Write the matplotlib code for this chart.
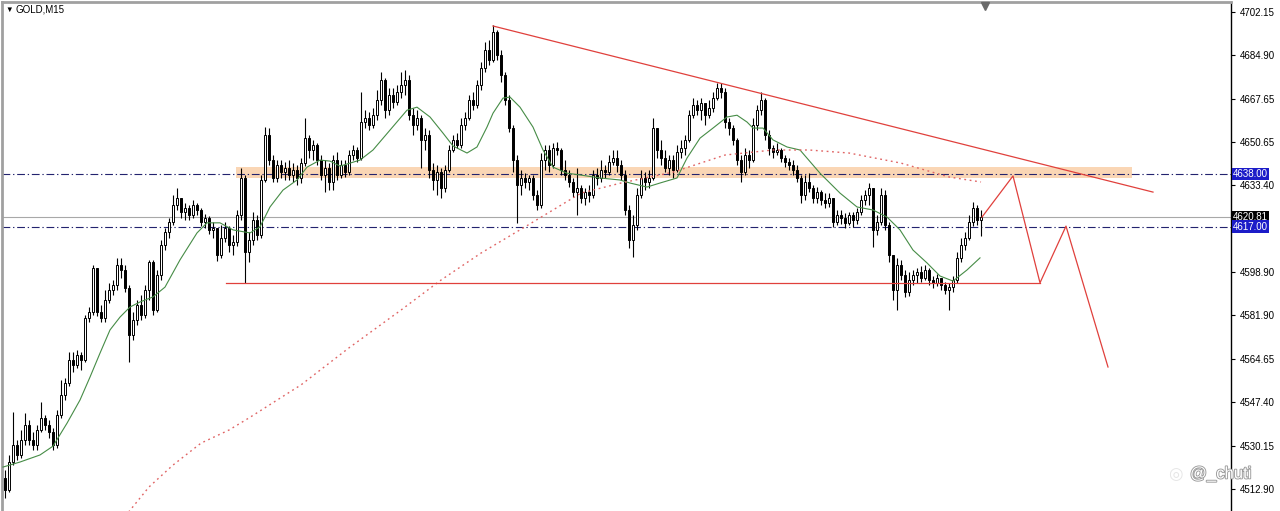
import numpy as np
import matplotlib
matplotlib.use("Agg")
import matplotlib.pyplot as plt
import matplotlib.patheffects as pe
from matplotlib.patches import Rectangle
import matplotlib.transforms as mtransforms

plt.rcParams['font.family'] = ['Liberation Sans', 'DejaVu Sans']

# ---- GOLD M15 candles (price) ----
first_open = 4517.2
closes = [
    4512.5, 4523.6, 4530.3, 4526.4, 4532.3, 4538.3, 4532.3, 4530.3, 4536.3, 4541.1,
    4538.3, 4535.5, 4530.3, 4542.2, 4550.2, 4555.0, 4564.1, 4562.1, 4566.1, 4564.1,
    4580.8, 4583.1, 4600.6, 4583.1, 4580.8, 4587.9, 4591.9, 4593.8, 4601.8, 4599.8,
    4592.7, 4574.0, 4580.0, 4585.9, 4581.9, 4591.9, 4603.0, 4583.9, 4597.8, 4609.7,
    4614.9, 4618.9, 4625.6, 4628.3, 4622.8, 4624.4, 4621.6, 4625.6, 4623.6, 4618.9,
    4620.5, 4615.7, 4616.5, 4605.7, 4612.5, 4616.5, 4609.7, 4610.9, 4621.6, 4636.3,
    4606.9, 4611.7, 4619.6, 4613.7, 4635.5, 4653.3, 4643.4, 4636.3, 4641.4, 4638.6,
    4640.2, 4637.5, 4639.5, 4636.3, 4642.2, 4652.1, 4647.4, 4649.4, 4643.4, 4637.5,
    4640.2, 4634.7, 4643.4, 4637.5, 4641.4, 4638.6, 4645.4, 4647.4, 4644.2, 4658.5,
    4660.1, 4657.3, 4661.2, 4667.2, 4675.2, 4663.2, 4669.2, 4666.4, 4670.4, 4673.2,
    4675.2, 4661.2, 4657.3, 4660.1, 4651.4, 4653.3, 4639.5, 4635.5, 4638.6, 4632.3,
    4639.5, 4647.4, 4651.4, 4649.4, 4657.3, 4660.1, 4667.2, 4665.2, 4673.2, 4679.9,
    4687.1, 4683.1, 4694.2, 4685.1, 4677.1, 4667.2, 4656.1, 4643.4, 4633.5, 4636.3,
    4634.7, 4636.3, 4629.5, 4625.6, 4643.4, 4647.4, 4641.4, 4648.2, 4647.4, 4639.5,
    4637.5, 4634.7, 4630.7, 4632.3, 4628.3, 4630.7, 4629.5, 4637.5, 4636.3, 4639.5,
    4638.6, 4642.6, 4644.2, 4641.4, 4637.5, 4623.6, 4611.7, 4617.6, 4629.5, 4636.3,
    4634.7, 4636.3, 4656.1, 4647.4, 4644.2, 4640.2, 4643.4, 4639.5, 4646.6, 4648.2,
    4651.4, 4661.2, 4665.2, 4663.2, 4666.0, 4661.2, 4664.0, 4668.0, 4672.0, 4670.4,
    4658.5, 4656.1, 4651.4, 4643.4, 4638.6, 4645.4, 4643.4, 4657.3, 4663.2, 4667.2,
    4653.3, 4648.2, 4646.6, 4647.4, 4644.2, 4642.6, 4641.4, 4639.5, 4636.3, 4629.5,
    4634.7, 4632.3, 4628.3, 4630.7, 4627.6, 4626.4, 4628.3, 4618.9, 4621.6, 4620.5,
    4618.5, 4621.6, 4619.6, 4622.8, 4627.6, 4629.5, 4632.3, 4615.7, 4618.9, 4629.5,
    4617.6, 4605.7, 4591.9, 4601.8, 4597.8, 4591.1, 4595.8, 4597.8, 4599.0, 4596.6,
    4599.8, 4595.8, 4594.6, 4596.6, 4593.8, 4591.9, 4593.1, 4595.8, 4604.6, 4609.7,
    4612.5, 4618.9, 4624.4, 4619.6, 4620.81,
]
highs = [
    4520.4, 4526.4, 4543.4, 4532.3, 4536.3, 4543.0, 4540.3, 4535.5, 4538.3, 4547.4,
    4542.2, 4540.3, 4537.1, 4544.2, 4556.1, 4556.9, 4567.3, 4567.3, 4568.1, 4567.3,
    4581.9, 4585.1, 4601.8, 4600.6, 4585.9, 4591.9, 4594.6, 4595.8, 4604.6, 4604.6,
    4601.8, 4593.8, 4583.1, 4587.9, 4589.9, 4593.8, 4603.8, 4603.8, 4599.8, 4611.7,
    4616.5, 4620.5, 4629.5, 4632.3, 4627.6, 4626.4, 4625.6, 4627.6, 4626.4, 4624.4,
    4622.0, 4621.2, 4618.9, 4616.5, 4617.6, 4618.9, 4617.3, 4613.7, 4623.6, 4640.2,
    4637.5, 4614.9, 4622.8, 4621.6, 4637.5, 4656.5, 4656.1, 4645.4, 4643.4, 4643.4,
    4642.6, 4643.4, 4642.2, 4641.4, 4644.2, 4660.1, 4653.3, 4651.4, 4650.2, 4645.4,
    4643.4, 4642.2, 4645.4, 4646.6, 4643.4, 4643.4, 4647.4, 4649.4, 4648.6, 4670.4,
    4663.2, 4662.4, 4664.0, 4671.2, 4678.3, 4675.9, 4672.0, 4672.0, 4673.2, 4678.3,
    4679.1, 4677.1, 4664.0, 4663.2, 4661.2, 4656.1, 4655.3, 4642.2, 4641.4, 4640.2,
    4641.4, 4649.4, 4653.3, 4654.1, 4660.1, 4662.4, 4669.2, 4670.4, 4675.2, 4682.3,
    4690.2, 4691.0, 4697.0, 4695.0, 4687.1, 4678.3, 4669.2, 4657.3, 4645.4, 4639.5,
    4638.2, 4637.5, 4637.5, 4631.5, 4646.2, 4649.4, 4649.4, 4650.2, 4650.6, 4648.2,
    4643.4, 4639.5, 4636.3, 4640.2, 4633.5, 4632.3, 4633.5, 4639.5, 4640.2, 4643.4,
    4641.4, 4645.4, 4647.4, 4647.4, 4643.4, 4639.5, 4625.6, 4621.6, 4632.3, 4639.5,
    4638.6, 4639.5, 4660.1, 4655.3, 4651.4, 4647.4, 4645.4, 4645.4, 4649.4, 4651.4,
    4653.3, 4663.2, 4668.0, 4667.2, 4668.0, 4665.2, 4667.2, 4670.4, 4674.0, 4674.0,
    4672.0, 4660.1, 4657.3, 4652.1, 4645.4, 4648.2, 4647.4, 4660.1, 4665.2, 4670.4,
    4668.0, 4655.3, 4649.4, 4650.2, 4648.2, 4645.4, 4644.2, 4643.4, 4641.4, 4637.5,
    4637.5, 4638.2, 4633.5, 4632.7, 4631.5, 4630.3, 4630.3, 4627.6, 4623.6, 4623.6,
    4622.4, 4622.8, 4622.8, 4624.4, 4629.5, 4631.5, 4634.3, 4631.5, 4621.6, 4632.3,
    4631.5, 4618.9, 4605.7, 4604.6, 4603.8, 4599.8, 4599.0, 4599.8, 4600.6, 4601.4,
    4601.8, 4600.6, 4597.4, 4598.2, 4596.6, 4595.0, 4594.6, 4597.4, 4606.9, 4612.5,
    4614.9, 4621.6, 4626.8, 4625.6, 4623.6,
]
lows = [
    4509.3, 4511.7, 4522.4, 4524.4, 4525.2, 4530.3, 4530.3, 4528.4, 4528.4, 4535.5,
    4536.3, 4533.1, 4528.4, 4529.1, 4541.1, 4548.2, 4553.8, 4559.3, 4560.9, 4560.1,
    4563.3, 4579.2, 4581.9, 4581.5, 4579.2, 4579.2, 4586.7, 4589.9, 4591.9, 4596.6,
    4591.1, 4563.3, 4572.0, 4578.0, 4580.0, 4580.8, 4587.9, 4581.9, 4583.1, 4595.8,
    4607.7, 4612.5, 4617.6, 4623.6, 4620.5, 4619.6, 4619.6, 4620.5, 4621.6, 4617.3,
    4616.5, 4614.1, 4612.5, 4603.4, 4604.6, 4610.9, 4606.9, 4605.7, 4609.3, 4619.6,
    4594.6, 4603.0, 4609.7, 4611.7, 4612.5, 4634.7, 4641.4, 4634.7, 4634.7, 4636.3,
    4635.5, 4635.5, 4634.7, 4633.5, 4634.3, 4641.0, 4644.2, 4643.4, 4641.4, 4635.5,
    4630.7, 4631.5, 4631.5, 4635.5, 4636.3, 4636.7, 4637.5, 4643.4, 4642.6, 4643.4,
    4656.1, 4655.3, 4656.1, 4659.3, 4665.2, 4660.1, 4661.2, 4664.0, 4665.2, 4668.0,
    4669.2, 4659.3, 4653.3, 4655.3, 4640.2, 4647.4, 4636.3, 4631.5, 4629.5, 4628.3,
    4630.7, 4638.6, 4646.6, 4648.2, 4648.2, 4655.3, 4659.3, 4663.2, 4664.0, 4671.2,
    4678.3, 4681.1, 4682.3, 4683.1, 4674.4, 4665.2, 4654.5, 4638.6, 4618.4, 4629.5,
    4632.3, 4631.5, 4627.6, 4623.6, 4624.4, 4639.5, 4638.6, 4640.2, 4645.4, 4637.5,
    4635.5, 4632.7, 4628.7, 4621.6, 4626.4, 4625.6, 4626.8, 4628.3, 4633.5, 4634.7,
    4636.3, 4637.5, 4641.4, 4638.6, 4635.5, 4621.6, 4608.5, 4604.9, 4615.7, 4628.3,
    4631.5, 4632.3, 4635.5, 4644.2, 4641.4, 4638.6, 4637.5, 4636.3, 4638.6, 4644.2,
    4645.4, 4650.6, 4660.1, 4661.2, 4659.3, 4657.3, 4660.1, 4662.4, 4667.2, 4668.0,
    4656.1, 4653.3, 4649.4, 4641.4, 4634.7, 4637.5, 4640.2, 4642.6, 4655.3, 4661.2,
    4651.4, 4645.4, 4644.2, 4645.4, 4642.6, 4640.6, 4639.5, 4637.5, 4634.7, 4626.4,
    4627.6, 4630.7, 4626.4, 4626.4, 4625.6, 4624.4, 4624.8, 4616.9, 4617.6, 4618.0,
    4616.5, 4617.6, 4616.9, 4618.0, 4621.6, 4625.6, 4625.6, 4609.0, 4613.7, 4617.6,
    4615.7, 4603.0, 4587.9, 4583.9, 4595.8, 4589.1, 4589.5, 4593.8, 4594.6, 4595.0,
    4595.8, 4593.8, 4592.7, 4593.4, 4591.9, 4590.3, 4583.9, 4591.1, 4594.6, 4603.0,
    4607.7, 4611.7, 4617.3, 4617.6, 4613.3,
]

# green moving average, traced (bar index, price)
ma_fast_pos = [-0.5, 3.75, 8.75, 12, 15.5, 18.75, 21.25, 23.75, 26.25, 28.75, 31.25, 33.75,
               37, 40, 43.75, 48, 50.5, 53.75, 57, 61.25, 63.75, 66.25, 69.5, 73, 75.5,
               78.75, 81.25, 83.75, 88.75, 92, 96.25, 100.5, 103, 106.25, 109.5, 112,
               115.5, 118, 120.5, 122, 124.5, 126.25, 128.75, 132, 134.5, 137, 140.5,
               143.75, 148.75, 153.75, 156.25, 160.5, 163.75, 168, 170.5, 173.75, 177,
               180.5, 183, 185.5, 187, 189.5, 192, 195.5, 198.75, 203.75, 208.75, 213,
               217, 220.5, 223.75, 227, 230.5, 233.75, 237, 240.5, 243.75]
ma_fast_val = [4521.6, 4523.6, 4526.4, 4529.9, 4539.0, 4548.2, 4557.3, 4566.8, 4576.0, 4581.1,
               4585.1, 4587.1, 4589.1, 4593.0, 4603.8, 4614.5, 4618.5, 4618.5, 4615.7, 4614.5,
               4616.9, 4624.8, 4631.5, 4635.5, 4640.6, 4643.4, 4643.0, 4641.0, 4643.4, 4647.4,
               4655.3, 4663.2, 4664.4, 4660.5, 4654.1, 4649.0, 4646.2, 4648.6, 4656.5, 4662.0,
               4668.0, 4668.4, 4664.4, 4656.5, 4647.4, 4640.6, 4638.2, 4637.5, 4636.3, 4635.5,
               4634.3, 4632.7, 4634.3, 4636.3, 4644.2, 4652.1, 4656.1, 4660.5, 4661.2, 4658.5,
               4656.1, 4656.1, 4651.4, 4648.6, 4647.4, 4638.2, 4630.3, 4624.8, 4623.6, 4620.8,
               4615.7, 4607.7, 4602.6, 4597.4, 4595.4, 4599.8, 4604.6]

# red dotted long moving average, traced (bar index, price)
ma_slow_pos = [30, 36, 42, 49, 56, 61, 74, 86, 99, 109, 119, 130, 144, 154, 167, 180,
               192, 201, 211, 224, 236, 244]
ma_slow_val = [4502.0, 4513.7, 4522.4, 4531.1, 4536.3, 4541.1, 4554.2, 4568.9, 4583.9,
               4595.8, 4606.5, 4616.9, 4630.3, 4634.3, 4638.6, 4645.4, 4647.4, 4647.4,
               4646.2, 4642.2, 4636.7, 4634.7]

# hand-drawn objects
trend_pos = [122, 287]
trend_val = [4696.6, 4630.7]
support_pos = [55.25, 258.75]
support_val = 4594.7
path_pos = [244.25, 252, 258.75, 265.25, 275.75]
path_val = [4620.8, 4637.1, 4594.7, 4617.2, 4561.3]
zone_pos = [57.75, 281.75]
zone_low, zone_high = 4636.3, 4640.6
level_hi = 4638.00
level_lo = 4617.00
bid = 4620.81

price_ticks = [4702.15, 4684.90, 4667.65, 4650.65, 4633.40, 4598.90,
               4581.90, 4564.65, 4547.40, 4530.15, 4512.90]

o = np.array([first_open] + closes[:-1])
c = np.array(closes)
h = np.maximum(np.array(highs), np.maximum(o, c))
l = np.minimum(np.array(lows), np.minimum(o, c))
x = np.arange(len(c))

W, H = 1280, 511
fig = plt.figure(figsize=(W / 100, H / 100), dpi=100)
ax = fig.add_axes([2 / W, 0, 1229 / W, 509 / H])
ax.set_xlim(-0.75, 306.5)
ax.set_ylim(4504.17, 4706.12)

# support/resistance zone and levels
ax.add_patch(Rectangle((zone_pos[0], zone_low), zone_pos[1] - zone_pos[0],
                       zone_high - zone_low, facecolor='#fad6b5', edgecolor='none', zorder=1))
for lv in (level_hi, level_lo):
    ax.axhline(lv, color='#23236e', lw=0.8, ls=(0, (7, 2.5, 1.2, 2.5)), zorder=2)
ax.axhline(bid, color='#a8a8a8', lw=0.8, zorder=2)

# candles
ax.vlines(x, l, h, color='black', lw=0.8, zorder=3)
up = c >= o
ax.bar(x[up], (c - o)[up], bottom=o[up], width=0.72, color='white',
       edgecolor='black', linewidth=0.7, zorder=4)
ax.bar(x[~up], (o - c)[~up], bottom=c[~up], width=0.72, color='black',
       edgecolor='black', linewidth=0.7, zorder=4)

# indicators
ax.plot(ma_fast_pos, ma_fast_val, color='#468c46', lw=0.8, zorder=5)
ax.plot(ma_slow_pos, ma_slow_val, color='#e06464', lw=1.0, ls=(0, (1.3, 2.6)), zorder=5)

# drawn lines
red = '#e0403c'
ax.plot(trend_pos, trend_val, color=red, lw=0.9, zorder=6)
ax.plot(support_pos, [support_val, support_val], color=red, lw=0.9, zorder=6)
ax.plot(path_pos, path_val, color=red, lw=0.9, zorder=6)

# axis styling
ax.set_xticks([])
ax.yaxis.tick_right()
ax.set_yticks(price_ticks)
ax.set_yticklabels([f'{t:.2f}' for t in price_ticks])
ax.tick_params(axis='y', direction='out', length=3, width=0.8, pad=3,
               labelsize=7, colors='black')
ax.spines['bottom'].set_visible(False)
ax.spines['right'].set_color('black')
ax.spines['right'].set_linewidth(1.0)
ax.spines['left'].set_color('#a0a0a0')
ax.spines['left'].set_linewidth(2.0)
ax.spines['top'].set_color('#a0a0a0')
ax.spines['top'].set_linewidth(2.0)

# price labels on the scale
trans = mtransforms.blended_transform_factory(ax.transAxes, ax.transData)
for val, bg in ((level_hi, '#1c1cc8'), (bid, 'black'), (level_lo, '#1c1cc8')):
    ax.text(1.0016, val, f'{val:.2f}', transform=trans, ha='left', va='center',
            fontsize=7, color='white', clip_on=False, zorder=10,
            bbox=dict(boxstyle='square,pad=0.12', facecolor=bg, edgecolor='none'))

# shift marker on top
ax.plot([245], [0.992], marker='v', color='#6a6a6a', markersize=6,
        transform=mtransforms.blended_transform_factory(ax.transData, ax.transAxes),
        clip_on=False, zorder=10)

# title
fig.text(5 / W, 1 - 10 / H, '▼', fontsize=5.5, va='center', ha='left')
fig.text(16 / W, 1 - 10 / H, 'GOLD,M15', fontsize=7, va='center', ha='left')

# watermark
fig.text(1175 / W, 1 - 474 / H, '◎', fontsize=12, color='#e6e6e6', va='center',
         ha='center', family=['DejaVu Sans'])
wm = fig.text(1190 / W, 1 - 474 / H, '@_chuti', fontsize=12, color='white',
              va='center', ha='left')
wm.set_path_effects([pe.withStroke(linewidth=1.3, foreground='#9a9a9a')])

fig.savefig('out.png', dpi=100, facecolor='white')
